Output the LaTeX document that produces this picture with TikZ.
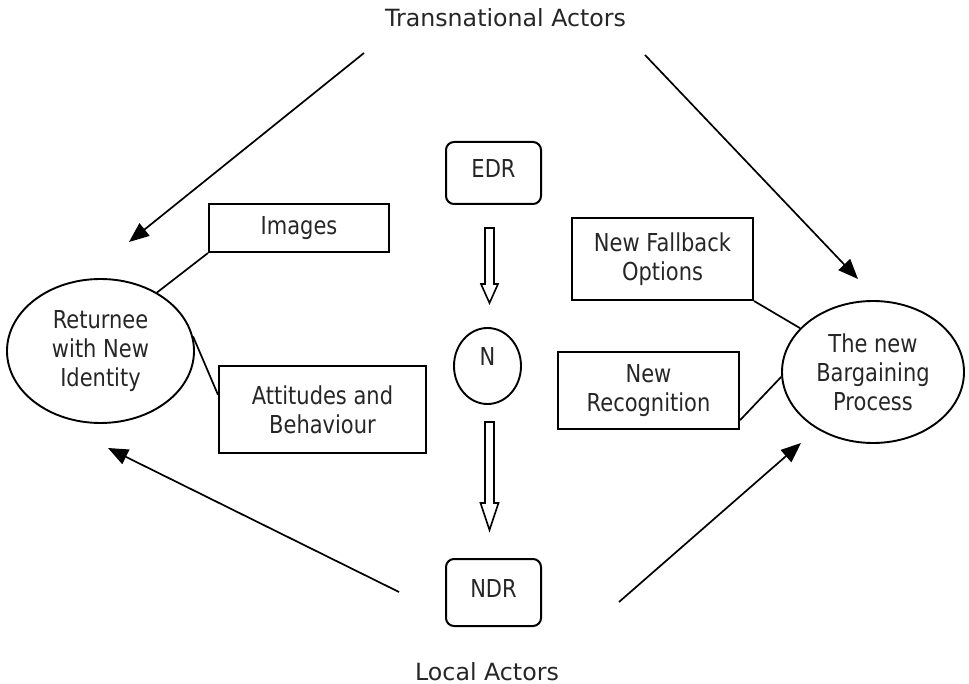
\documentclass[tikz,border=0pt]{standalone}
\usepackage{fontspec}
\setmainfont{DejaVu Sans}[FakeStretch=0.85]
\newfontfamily\actorfont{DejaVu Sans}
\usetikzlibrary{arrows.meta,shapes.geometric}
\begin{document}
\begin{tikzpicture}[x=1pt,y=-1pt,
  txt/.style={font=\fontsize{24.7}{29}\selectfont, align=center, text=black!85},
  actor/.style={font=\actorfont\fontsize{23.7}{28}\selectfont, text=black!85, anchor=base, inner sep=0pt},
  textbox/.style={txt, draw, line width=2pt, rectangle, inner sep=0pt},
  roundbox/.style={textbox, rounded corners=8pt},
  bubble/.style={txt, draw, line width=1.9pt, ellipse, inner sep=0pt},
  link/.style={line width=1.7pt},
  flow/.style={line width=1.7pt, -{Triangle[length=20pt,width=16pt]}},
  hollow/.style={line width=1.6pt, fill=white, line join=miter}]

% page
\useasboundingbox[fill=white] (0,0) rectangle (969,684);

% actor labels
\node[actor] (ta) at (505.5,27) {Transnational Actors};
\node[actor] (la) at (487,680) {Local Actors};

% central column
\node[roundbox, minimum width=95pt, minimum height=62pt] (edr) at (493.5,173) {};
\node[txt] at (493.5,169) {EDR};
\node[bubble, minimum width=67pt, minimum height=76pt,
      label={[txt, yshift=10pt]center:N}] (n) at (487.5,366) {};
\node[roundbox, minimum width=95pt, minimum height=67pt] (ndr) at (493.5,592.5) {};
\node[txt] at (493.5,588.5) {NDR};

% hollow block arrows between the central items
\draw[hollow] (485,228) -- (494,228) -- (494,284) -- (498,284) -- (489.5,303)
  -- (481,284) -- (485,284) -- cycle;
\draw[hollow] (485,422) -- (494,422) -- (494,503) -- (498.5,503) -- (489.5,530)
  -- (480.5,503) -- (485,503) -- cycle;

% outcome ellipses
\node[bubble, minimum width=187pt, minimum height=144pt] (ret) at (100.5,351)
  {Returnee\\with New\\Identity};
\node[bubble, minimum width=182pt, minimum height=142pt] (bp) at (873,372)
  {The new\\Bargaining\\Process};

% attribute boxes
\node[textbox, minimum width=180pt, minimum height=48pt] (img) at (299,228) {Images};
\node[textbox, minimum width=207pt, minimum height=87pt] (att) at (322.5,409.5)
  {Attitudes and\\Behaviour};
\node[textbox, minimum width=181pt, minimum height=82pt] (fb) at (662.5,259)
  {New Fallback\\Options};
\node[textbox, minimum width=181pt, minimum height=77pt] (rec) at (648.5,390.5)
  {New\\Recognition};

% attachments
\draw[link] (img.south west) -- (ret.46);
\draw[link] (att.172) -- (ret.9);
\draw[link] (fb.south east) -- (bp.149);
\draw[link] (rec.-18) -- (bp.183);

% influence arrows
\coordinate (tl0) at (364,53);   \coordinate (tl1) at (129,242);
\coordinate (tr0) at (645,55);   \coordinate (tr1) at (858,279);
\coordinate (bl0) at (399,592);  \coordinate (bl1) at (108,448);
\coordinate (br0) at (619,602);  \coordinate (br1) at (801,443);
\draw[flow] (tl0) -- (tl1);
\draw[flow] (tr0) -- (tr1);
\draw[flow] (bl0) -- (bl1);
\draw[flow] (br0) -- (br1);
\end{tikzpicture}
\end{document}
